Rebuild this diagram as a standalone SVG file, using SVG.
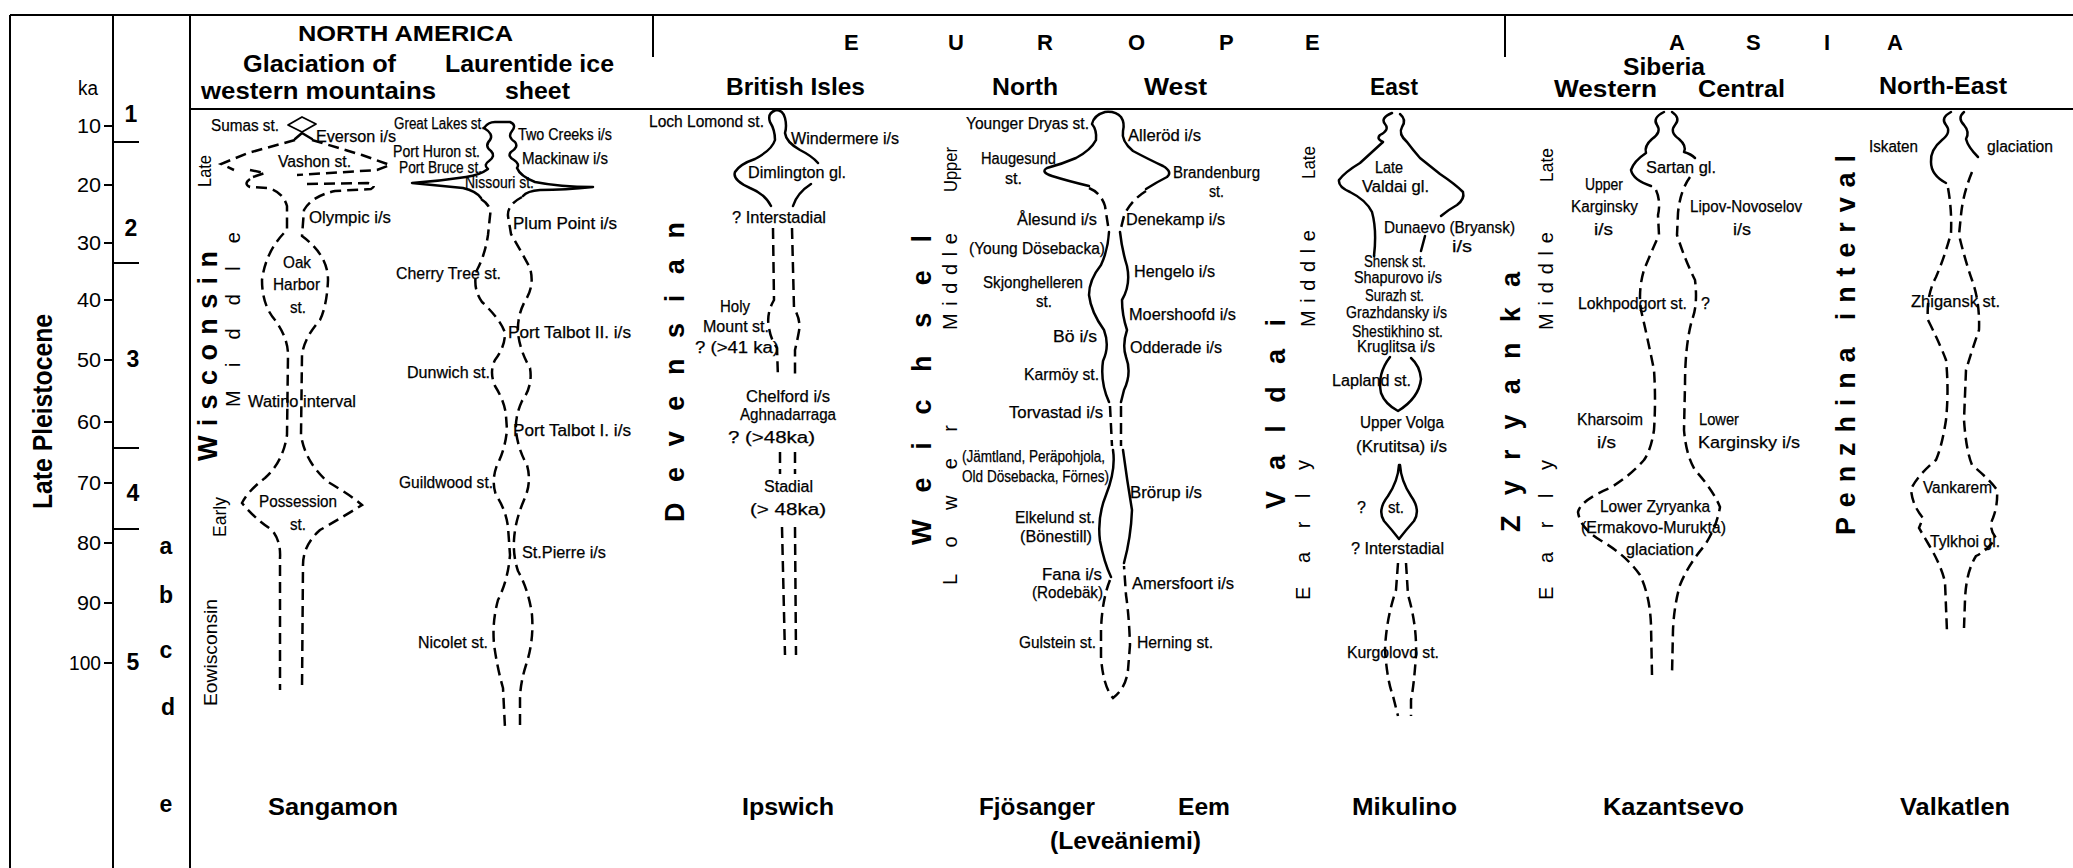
<svg xmlns="http://www.w3.org/2000/svg" width="2073" height="868" viewBox="0 0 2073 868">
<style>
.f{fill:none;stroke:#000;stroke-width:2}
.s{fill:none;stroke:#000;stroke-width:2.5;stroke-linecap:round;stroke-linejoin:round}
.t{fill:none;stroke:#000;stroke-width:1.8;stroke-linejoin:round}
.d{fill:none;stroke:#000;stroke-width:2.5;stroke-dasharray:11 6}
text{font-family:"Liberation Sans",Arial,sans-serif;fill:#000}
.l{font-size:16px;stroke:#000;stroke-width:0.25}
.h{font-size:24px;font-weight:bold}
.hl{font-size:22px;font-weight:bold}
.v{font-size:27px;font-weight:bold}
.m{font-size:20px}
.r{font-size:18px}
.n{font-size:20px}
.b{font-size:23px;font-weight:bold}
</style>
<rect width="2073" height="868" fill="#fff"/>
<g id="frame">
<path class="f" d="M10,15 H2073 M10,15 V868 M113,15 V868 M190,15 V868 M190,109 H2073 M653,15 V57 M1505,15 V57"/>
</g>
<g id="header">
<text class="hl" x="298" y="41" textLength="215" lengthAdjust="spacingAndGlyphs">NORTH AMERICA</text>
<text class="h" x="243" y="72" textLength="153" lengthAdjust="spacingAndGlyphs">Glaciation of</text>
<text class="h" x="445" y="72" textLength="169" lengthAdjust="spacingAndGlyphs">Laurentide ice</text>
<text class="h" x="201" y="99" textLength="235" lengthAdjust="spacingAndGlyphs">western mountains</text>
<text class="h" x="505" y="99" textLength="65" lengthAdjust="spacingAndGlyphs">sheet</text>
<text class="hl" x="844" y="50">E</text>
<text class="hl" x="948" y="50">U</text>
<text class="hl" x="1037" y="50">R</text>
<text class="hl" x="1128" y="50">O</text>
<text class="hl" x="1219" y="50">P</text>
<text class="hl" x="1305" y="50">E</text>
<text class="hl" x="1669" y="50">A</text>
<text class="hl" x="1746" y="50">S</text>
<text class="hl" x="1824" y="50">I</text>
<text class="hl" x="1887" y="50">A</text>
<text class="h" x="726" y="95" textLength="139" lengthAdjust="spacingAndGlyphs">British Isles</text>
<text class="h" x="992" y="95" textLength="66" lengthAdjust="spacingAndGlyphs">North</text>
<text class="h" x="1144" y="95" textLength="63" lengthAdjust="spacingAndGlyphs">West</text>
<text class="h" x="1370" y="95" textLength="48" lengthAdjust="spacingAndGlyphs">East</text>
<text class="h" x="1623" y="75" textLength="82" lengthAdjust="spacingAndGlyphs">Siberia</text>
<text class="h" x="1554" y="97" textLength="103" lengthAdjust="spacingAndGlyphs">Western</text>
<text class="h" x="1698" y="97" textLength="87" lengthAdjust="spacingAndGlyphs">Central</text>
<text class="h" x="1879" y="94" textLength="128" lengthAdjust="spacingAndGlyphs">North-East</text>
</g>
<g id="axis">
<text class="v" transform="translate(42,412) rotate(-90)" x="-97" y="10" textLength="195" lengthAdjust="spacingAndGlyphs">Late Pleistocene</text>
<text class="n" x="78" y="95" textLength="20" lengthAdjust="spacingAndGlyphs">ka</text>
<path class="f" d="M104,126 H113 M104,185 H113 M104,243 H113 M104,300 H113 M104,360 H113 M104,422 H113 M104,483 H113 M104,543 H113 M104,603 H113 M104,663 H113"/>
<g class="n" text-anchor="end">
<text x="101" y="133" textLength="24" lengthAdjust="spacingAndGlyphs">10</text>
<text x="101" y="192" textLength="24" lengthAdjust="spacingAndGlyphs">20</text>
<text x="101" y="250" textLength="24" lengthAdjust="spacingAndGlyphs">30</text>
<text x="101" y="307" textLength="24" lengthAdjust="spacingAndGlyphs">40</text>
<text x="101" y="367" textLength="24" lengthAdjust="spacingAndGlyphs">50</text>
<text x="101" y="429" textLength="24" lengthAdjust="spacingAndGlyphs">60</text>
<text x="101" y="490" textLength="24" lengthAdjust="spacingAndGlyphs">70</text>
<text x="101" y="550" textLength="24" lengthAdjust="spacingAndGlyphs">80</text>
<text x="101" y="610" textLength="24" lengthAdjust="spacingAndGlyphs">90</text>
<text x="101" y="670" textLength="32" lengthAdjust="spacingAndGlyphs">100</text>
</g>
<path class="f" d="M113,142 H139 M113,263 H139 M113,448 H139 M113,529 H139"/>
<g class="b" text-anchor="middle">
<text x="131" y="122">1</text>
<text x="131" y="236">2</text>
<text x="133" y="367">3</text>
<text x="133" y="501">4</text>
<text x="133" y="670">5</text>
<text x="166" y="554">a</text>
<text x="166" y="603">b</text>
<text x="166" y="658">c</text>
<text x="168" y="715">d</text>
<text x="166" y="812">e</text>
</g>
</g>
<g id="col-na-west">
<text class="r" transform="translate(204,171) rotate(-90)" x="-16" y="7" textLength="32" lengthAdjust="spacingAndGlyphs">Late</text>
<text class="v" transform="translate(208,356) rotate(-90)" x="-105" y="9" textLength="210" lengthAdjust="spacing">Wisconsin</text>
<text class="m" transform="translate(233,320) rotate(-90)" x="-87" y="7" textLength="175" lengthAdjust="spacing">Middle</text>
<text class="r" transform="translate(219,517) rotate(-90)" x="-20" y="7" textLength="40" lengthAdjust="spacingAndGlyphs">Early</text>
<text class="r" transform="translate(210,653) rotate(-90)" x="-53" y="7" textLength="107" lengthAdjust="spacingAndGlyphs">Eowisconsin</text>
<path class="t" d="M288,125 L302,117 L316,124 L302,132 Z"/>
<path class="s" d="M295,139 L302,133 L312,139"/>
<path class="d" d="M295,140 L248,153 L221,164 L234,170"/>
<path class="d" d="M250,170 L265,173 L253,177"/>
<path class="d" d="M312,140 L362,155 L390,165 L377,170 L297,175"/>
<path class="d" d="M250,179 Q243,184 250,187 L268,188 Q283,192 287,206 L287,230 Q266,250 262,280 Q262,305 275,320 Q288,338 288,355 L287,435 Q283,462 265,478 Q247,492 242,503 Q254,518 272,530 Q281,541 280,558 L280,690"/>
<path class="d" d="M307,184 L368,183 Q378,185 371,189 L335,191 Q312,196 304,210 L302,236 Q328,255 328,280 Q327,305 320,320 Q304,338 302,355 L301,435 Q305,462 328,482 Q352,496 362,505 Q343,517 320,530 Q303,545 303,565 L302,690"/>
<g class="l">
<text x="211" y="131" textLength="68" lengthAdjust="spacingAndGlyphs">Sumas st.</text>
<text x="316" y="142" textLength="80" lengthAdjust="spacingAndGlyphs">Everson i/s</text>
<text x="278" y="167" textLength="73" lengthAdjust="spacingAndGlyphs">Vashon st.</text>
<text x="309" y="223" textLength="82" lengthAdjust="spacingAndGlyphs">Olympic i/s</text>
<text x="283" y="268" textLength="28" lengthAdjust="spacingAndGlyphs">Oak</text>
<text x="273" y="290" textLength="47" lengthAdjust="spacingAndGlyphs">Harbor</text>
<text x="290" y="313" textLength="16" lengthAdjust="spacingAndGlyphs">st.</text>
<text x="248" y="407" textLength="108" lengthAdjust="spacingAndGlyphs">Watino interval</text>
<text x="259" y="507" textLength="78" lengthAdjust="spacingAndGlyphs">Possession</text>
<text x="290" y="530" textLength="16" lengthAdjust="spacingAndGlyphs">st.</text>
</g>
</g>
<g id="col-na-laurentide">
<path class="s" d="M484,128 Q488,122 495,122 L510,122 Q517,125 512,131 Q507,137 515,142 Q519,147 511,152 Q507,156 514,160 Q520,164 517,168 Q520,176 535,182 Q560,187 593,187 Q565,190 540,190 Q527,191 523,196"/>
<path class="s" d="M484,128 Q494,134 490,140 Q484,146 491,151 Q496,156 489,161 Q483,165 488,169 Q480,175 466,177 Q440,181 412,183 Q442,186 463,188 Q476,191 481,198"/>
<path class="d" d="M481,199 Q492,206 490,216 L488,235 Q485,255 477,270 Q472,288 482,302 Q501,320 505,333 Q505,347 495,360 Q489,372 495,386 Q505,402 506,416 L507,430 Q505,450 497,465 Q491,481 496,495 Q506,510 508,527 L510,555 Q508,580 498,600 Q492,622 494,644 Q497,667 503,688 L505,728"/>
<path class="d" d="M522,197 Q507,205 508,216 L511,234 Q521,251 530,268 Q535,286 525,301 Q517,316 518,333 Q520,351 530,368 Q533,386 522,401 Q515,416 516,431 Q518,449 527,465 Q532,483 524,500 Q515,521 514,540 Q513,556 518,571 Q529,591 532,615 Q534,641 526,665 Q520,684 520,700 L520,728"/>
<g class="l">
<text x="394" y="129" textLength="91" lengthAdjust="spacingAndGlyphs">Great Lakes st.</text>
<text x="518" y="140" textLength="94" lengthAdjust="spacingAndGlyphs">Two Creeks i/s</text>
<text x="393" y="157" textLength="87" lengthAdjust="spacingAndGlyphs">Port Huron st.</text>
<text x="522" y="164" textLength="86" lengthAdjust="spacingAndGlyphs">Mackinaw i/s</text>
<text x="399" y="173" textLength="83" lengthAdjust="spacingAndGlyphs">Port Bruce st.</text>
<text x="465" y="188" textLength="69" lengthAdjust="spacingAndGlyphs">Nissouri st.</text>
<text x="513" y="229" textLength="104" lengthAdjust="spacingAndGlyphs">Plum Point i/s</text>
<text x="396" y="279" textLength="105" lengthAdjust="spacingAndGlyphs">Cherry Tree st.</text>
<text x="508" y="338" textLength="123" lengthAdjust="spacingAndGlyphs">Port Talbot II. i/s</text>
<text x="407" y="378" textLength="83" lengthAdjust="spacingAndGlyphs">Dunwich st.</text>
<text x="513" y="436" textLength="118" lengthAdjust="spacingAndGlyphs">Port Talbot I. i/s</text>
<text x="399" y="488" textLength="94" lengthAdjust="spacingAndGlyphs">Guildwood st.</text>
<text x="522" y="558" textLength="84" lengthAdjust="spacingAndGlyphs">St.Pierre i/s</text>
<text x="418" y="648" textLength="70" lengthAdjust="spacingAndGlyphs">Nicolet st.</text>
</g>
</g>
<g id="col-british">
<text class="v" transform="translate(675,372) rotate(-90)" x="-150" y="9" textLength="300" lengthAdjust="spacing">Devensian</text>
<path class="s" d="M771,206 Q765,194 750,188 Q732,180 735,172 Q740,164 755,159 Q772,150 775,140 Q775,130 770,122 Q767,113 776,110 Q783,110 785,118 Q787,126 785,133 Q786,142 800,150 Q812,156 818,163"/>
<path class="s" d="M811,184 Q797,193 793,206"/>
<path class="d" d="M773,228 L774,300 Q766,314 769,328 Q771,340 777,348 L778,378 M792,228 L794,308 Q801,320 799,331 Q797,342 795,350 L795,378 M780,452 L780,474 M795,452 L795,474 M782,527 L785,655 M795,527 L796,655"/>
<g class="l">
<text x="649" y="127" textLength="115" lengthAdjust="spacingAndGlyphs">Loch Lomond st.</text>
<text x="791" y="144" textLength="108" lengthAdjust="spacingAndGlyphs">Windermere i/s</text>
<text x="748" y="178" textLength="98" lengthAdjust="spacingAndGlyphs">Dimlington gl.</text>
<text x="732" y="223" textLength="94" lengthAdjust="spacingAndGlyphs">? Interstadial</text>
<text x="720" y="312" textLength="30" lengthAdjust="spacingAndGlyphs">Holy</text>
<text x="703" y="332" textLength="66" lengthAdjust="spacingAndGlyphs">Mount st.</text>
<text x="695" y="353" textLength="84" lengthAdjust="spacingAndGlyphs">? (&gt;41 ka)</text>
<text x="746" y="402" textLength="84" lengthAdjust="spacingAndGlyphs">Chelford i/s</text>
<text x="740" y="420" textLength="96" lengthAdjust="spacingAndGlyphs">Aghnadarraga</text>
<text x="728" y="443" textLength="87" lengthAdjust="spacingAndGlyphs">? (&gt;48ka)</text>
<text x="764" y="492" textLength="49" lengthAdjust="spacingAndGlyphs">Stadial</text>
<text x="750" y="515" textLength="76" lengthAdjust="spacingAndGlyphs">(&gt; 48ka)</text>
</g>
</g>
<g id="col-northwest">
<text class="v" transform="translate(922,390) rotate(-90)" x="-155" y="9" textLength="310" lengthAdjust="spacing">Weichsel</text>
<text class="r" transform="translate(950,170) rotate(-90)" x="-22" y="7" textLength="45" lengthAdjust="spacingAndGlyphs">Upper</text>
<text class="m" transform="translate(950,282) rotate(-90)" x="-48" y="7" textLength="97" lengthAdjust="spacing">Middle</text>
<text class="m" transform="translate(950,505) rotate(-90)" x="-80" y="7" textLength="160" lengthAdjust="spacing">Lower</text>
<path class="s" d="M1089,186 Q1068,181 1052,176 Q1040,172 1047,168 Q1062,164 1076,158 Q1091,150 1096,140 Q1097,130 1092,124 Q1094,115 1105,112 Q1116,111 1121,117 Q1125,123 1123,131 Q1121,141 1133,151 Q1150,160 1163,166 Q1173,172 1167,177 Q1157,182 1146,189"/>
<path class="d" d="M1089,188 Q1101,193 1105,206 L1109,232 M1146,191 Q1130,201 1124,216 L1120,232"/>
<path class="s" d="M1109,232 Q1108,250 1101,265 Q1089,280 1089,295 Q1091,312 1104,330 Q1110,346 1103,361 Q1100,382 1109,402"/>
<path class="s" d="M1120,232 Q1122,250 1127,266 Q1131,285 1122,300 Q1122,315 1127,330 Q1122,345 1126,357 Q1132,373 1124,390 L1121,402"/>
<path class="d" d="M1110,406 L1112,446 M1121,406 L1121,446"/>
<path class="s" d="M1113,450 Q1116,470 1106,495 Q1097,517 1100,541 Q1104,562 1111,577"/>
<path class="s" d="M1123,450 Q1127,480 1132,510 Q1131,537 1124,563"/>
<path class="d" d="M1110,580 Q1102,600 1101,630 L1101,657 Q1103,686 1113,698 Q1126,688 1128,670 L1130,645 Q1129,615 1126,595 L1124,566"/>
<g class="l">
<text x="966" y="129" textLength="123" lengthAdjust="spacingAndGlyphs">Younger Dryas st.</text>
<text x="1128" y="141" textLength="73" lengthAdjust="spacingAndGlyphs">Alleröd i/s</text>
<text x="981" y="164" textLength="75" lengthAdjust="spacingAndGlyphs">Haugesund</text>
<text x="1005" y="184" textLength="17" lengthAdjust="spacingAndGlyphs">st.</text>
<text x="1173" y="178" textLength="87" lengthAdjust="spacingAndGlyphs">Brandenburg</text>
<text x="1209" y="197" textLength="15" lengthAdjust="spacingAndGlyphs">st.</text>
<text x="1017" y="225" textLength="80" lengthAdjust="spacingAndGlyphs">Ålesund i/s</text>
<text x="1126" y="225" textLength="99" lengthAdjust="spacingAndGlyphs">Denekamp i/s</text>
<text x="969" y="254" textLength="136" lengthAdjust="spacingAndGlyphs">(Young Dösebacka)</text>
<text x="1134" y="277" textLength="81" lengthAdjust="spacingAndGlyphs">Hengelo i/s</text>
<text x="983" y="288" textLength="100" lengthAdjust="spacingAndGlyphs">Skjonghelleren</text>
<text x="1036" y="307" textLength="16" lengthAdjust="spacingAndGlyphs">st.</text>
<text x="1129" y="320" textLength="107" lengthAdjust="spacingAndGlyphs">Moershoofd i/s</text>
<text x="1053" y="342" textLength="44" lengthAdjust="spacingAndGlyphs">Bö i/s</text>
<text x="1130" y="353" textLength="92" lengthAdjust="spacingAndGlyphs">Odderade i/s</text>
<text x="1024" y="380" textLength="75" lengthAdjust="spacingAndGlyphs">Karmöy st.</text>
<text x="1009" y="418" textLength="94" lengthAdjust="spacingAndGlyphs">Torvastad i/s</text>
<text x="962" y="462" textLength="143" lengthAdjust="spacingAndGlyphs">(Jämtland, Peräpohjola,</text>
<text x="962" y="482" textLength="147" lengthAdjust="spacingAndGlyphs">Old Dösebacka, Förnes)</text>
<text x="1130" y="498" textLength="72" lengthAdjust="spacingAndGlyphs">Brörup i/s</text>
<text x="1015" y="523" textLength="80" lengthAdjust="spacingAndGlyphs">Elkelund st.</text>
<text x="1020" y="542" textLength="72" lengthAdjust="spacingAndGlyphs">(Bönestill)</text>
<text x="1042" y="580" textLength="60" lengthAdjust="spacingAndGlyphs">Fana i/s</text>
<text x="1032" y="598" textLength="71" lengthAdjust="spacingAndGlyphs">(Rodebäk)</text>
<text x="1132" y="589" textLength="102" lengthAdjust="spacingAndGlyphs">Amersfoort i/s</text>
<text x="1019" y="648" textLength="77" lengthAdjust="spacingAndGlyphs">Gulstein st.</text>
<text x="1137" y="648" textLength="76" lengthAdjust="spacingAndGlyphs">Herning st.</text>
</g>
</g>
<g id="col-east">
<text class="v" transform="translate(1276,414) rotate(-90)" x="-95" y="9" textLength="190" lengthAdjust="spacing">Valdai</text>
<text class="r" transform="translate(1308,163) rotate(-90)" x="-16" y="7" textLength="33" lengthAdjust="spacingAndGlyphs">Late</text>
<text class="m" transform="translate(1308,279) rotate(-90)" x="-48" y="7" textLength="97" lengthAdjust="spacing">Middle</text>
<text class="m" transform="translate(1303,530) rotate(-90)" x="-70" y="7" textLength="140" lengthAdjust="spacing">Early</text>
<path class="s" d="M1392,113 Q1380,118 1385,124 Q1390,130 1380,135 Q1376,139 1383,142 Q1372,152 1360,163 Q1345,172 1339,180 Q1338,187 1350,192 Q1366,200 1372,212 Q1377,230 1374,256"/>
<path class="s" d="M1400,114 Q1407,120 1402,127 Q1398,134 1407,142 Q1413,150 1420,158 Q1430,166 1440,174 Q1455,184 1463,192 Q1465,199 1457,205 Q1448,210 1441,216"/>
<path class="s" d="M1425,236 L1421,251"/>
<path class="s" d="M1390,357 Q1377,374 1381,393 Q1385,404 1398,411 Q1419,398 1421,379 Q1420,366 1411,358"/>
<path class="s" d="M1399,465 Q1398,481 1388,496 Q1377,510 1384,521 Q1392,530 1399,539 Q1406,530 1414,521 Q1421,510 1411,496 Q1401,481 1400,465"/>
<path class="d" d="M1398,563 L1396,590 Q1386,620 1385,650 Q1387,680 1393,696 L1398,716 M1406,563 L1408,595 Q1417,625 1416,655 Q1414,685 1411,700 L1411,716"/>
<g class="l">
<text x="1375" y="173" textLength="28" lengthAdjust="spacingAndGlyphs">Late</text>
<text x="1362" y="192" textLength="67" lengthAdjust="spacingAndGlyphs">Valdai gl.</text>
<text x="1384" y="233" textLength="131" lengthAdjust="spacingAndGlyphs">Dunaevo (Bryansk)</text>
<text x="1452" y="252" textLength="20" lengthAdjust="spacingAndGlyphs">i/s</text>
<text x="1364" y="267" textLength="62" lengthAdjust="spacingAndGlyphs">Shensk st.</text>
<text x="1354" y="283" textLength="88" lengthAdjust="spacingAndGlyphs">Shapurovo i/s</text>
<text x="1365" y="301" textLength="59" lengthAdjust="spacingAndGlyphs">Surazh st.</text>
<text x="1346" y="318" textLength="101" lengthAdjust="spacingAndGlyphs">Grazhdansky i/s</text>
<text x="1352" y="337" textLength="91" lengthAdjust="spacingAndGlyphs">Shestikhino st.</text>
<text x="1357" y="352" textLength="78" lengthAdjust="spacingAndGlyphs">Kruglitsa i/s</text>
<text x="1332" y="386" textLength="79" lengthAdjust="spacingAndGlyphs">Lapland st.</text>
<text x="1360" y="428" textLength="84" lengthAdjust="spacingAndGlyphs">Upper Volga</text>
<text x="1356" y="452" textLength="91" lengthAdjust="spacingAndGlyphs">(Krutitsa) i/s</text>
<text x="1357" y="513">?</text>
<text x="1388" y="513" textLength="16" lengthAdjust="spacingAndGlyphs">st.</text>
<text x="1351" y="554" textLength="93" lengthAdjust="spacingAndGlyphs">? Interstadial</text>
<text x="1347" y="658" textLength="92" lengthAdjust="spacingAndGlyphs">Kurgolovo st.</text>
</g>
</g>
<g id="col-siberia">
<text class="v" transform="translate(1511,402) rotate(-90)" x="-130" y="9" textLength="260" lengthAdjust="spacing">Zyryanka</text>
<text class="r" transform="translate(1546,165) rotate(-90)" x="-17" y="7" textLength="34" lengthAdjust="spacingAndGlyphs">Late</text>
<text class="m" transform="translate(1546,281) rotate(-90)" x="-49" y="7" textLength="98" lengthAdjust="spacing">Middle</text>
<text class="m" transform="translate(1546,530) rotate(-90)" x="-70" y="7" textLength="140" lengthAdjust="spacing">Early</text>
<path class="s" d="M1664,112 Q1652,118 1657,125 Q1662,132 1652,139 Q1644,146 1646,153 Q1634,161 1631,170 Q1633,180 1651,186"/>
<path class="s" d="M1672,112 Q1681,118 1675,125 Q1669,132 1679,139 Q1687,146 1684,152 Q1691,154 1695,158"/>
<path class="d" d="M1656,190 Q1661,201 1658,215 L1659,235 Q1650,255 1644,270 Q1638,290 1641,310 Q1648,340 1654,370 Q1656,400 1654,430 Q1651,450 1644,460 Q1630,476 1610,488 Q1581,500 1578,512 Q1580,528 1600,540 Q1626,555 1640,575 Q1650,596 1651,625 L1652,675"/>
<path class="d" d="M1690,177 Q1680,191 1678,213 L1677,235 Q1685,260 1695,280 Q1698,305 1692,320 Q1685,345 1685,385 L1684,430 Q1686,455 1695,470 Q1713,490 1720,507 Q1717,526 1705,545 Q1688,565 1680,585 Q1674,606 1673,630 L1672,675"/>
<g class="l">
<text x="1646" y="173" textLength="70" lengthAdjust="spacingAndGlyphs">Sartan gl.</text>
<text x="1585" y="190" textLength="38" lengthAdjust="spacingAndGlyphs">Upper</text>
<text x="1571" y="212" textLength="67" lengthAdjust="spacingAndGlyphs">Karginsky</text>
<text x="1594" y="235" textLength="19" lengthAdjust="spacingAndGlyphs">i/s</text>
<text x="1690" y="212" textLength="112" lengthAdjust="spacingAndGlyphs">Lipov-Novoselov</text>
<text x="1733" y="235" textLength="18" lengthAdjust="spacingAndGlyphs">i/s</text>
<text x="1578" y="309" textLength="109" lengthAdjust="spacingAndGlyphs">Lokhpodgort st.</text>
<text x="1701" y="309">?</text>
<text x="1577" y="425" textLength="66" lengthAdjust="spacingAndGlyphs">Kharsoim</text>
<text x="1597" y="448" textLength="19" lengthAdjust="spacingAndGlyphs">i/s</text>
<text x="1699" y="425" textLength="40" lengthAdjust="spacingAndGlyphs">Lower</text>
<text x="1698" y="448" textLength="102" lengthAdjust="spacingAndGlyphs">Karginsky  i/s</text>
<text x="1600" y="512" textLength="110" lengthAdjust="spacingAndGlyphs">Lower Zyryanka</text>
<text x="1581" y="533" textLength="145" lengthAdjust="spacingAndGlyphs">(Ermakovo-Murukta)</text>
<text x="1626" y="555" textLength="68" lengthAdjust="spacingAndGlyphs">glaciation</text>
</g>
</g>
<g id="col-northeast">
<text class="v" transform="translate(1846,345) rotate(-90)" x="-190" y="9" textLength="380" lengthAdjust="spacing">Penzhina interval</text>
<path class="s" d="M1951,112 Q1940,118 1946,125 Q1952,132 1942,140 Q1930,150 1931,162 Q1931,175 1946,183"/>
<path class="s" d="M1964,112 Q1957,118 1964,125 Q1970,132 1966,139 Q1968,147 1978,157"/>
<path class="d" d="M1948,188 Q1952,210 1951,233 Q1945,256 1936,277 Q1926,296 1928,320 Q1940,344 1946,360 Q1949,390 1946,420 Q1942,446 1936,460 Q1918,475 1911,489 Q1912,505 1923,518 L1919,528 L1929,545 Q1941,565 1945,582 L1947,632"/>
<path class="d" d="M1972,172 Q1963,194 1961,215 L1959,235 Q1965,260 1972,280 Q1980,302 1979,330 Q1972,350 1966,370 L1964,420 Q1966,450 1972,465 Q1990,480 1997,490 Q1998,505 1993,518 Q1988,528 1996,538 Q1988,550 1976,556 Q1966,572 1965,600 L1964,628"/>
<g class="l">
<text x="1869" y="152" textLength="49" lengthAdjust="spacingAndGlyphs">Iskaten</text>
<text x="1987" y="152" textLength="66" lengthAdjust="spacingAndGlyphs">glaciation</text>
<text x="1911" y="307" textLength="89" lengthAdjust="spacingAndGlyphs">Zhigansk st.</text>
<text x="1923" y="493" textLength="69" lengthAdjust="spacingAndGlyphs">Vankarem</text>
<text x="1930" y="547" textLength="70" lengthAdjust="spacingAndGlyphs">Tylkhoi gl.</text>
</g>
</g>
<g id="footer" class="b">
<text x="268" y="815" textLength="130" lengthAdjust="spacingAndGlyphs">Sangamon</text>
<text x="742" y="815" textLength="92" lengthAdjust="spacingAndGlyphs">Ipswich</text>
<text x="979" y="815" textLength="116" lengthAdjust="spacingAndGlyphs">Fjösanger</text>
<text x="1178" y="815" textLength="52" lengthAdjust="spacingAndGlyphs">Eem</text>
<text x="1050" y="849" textLength="151" lengthAdjust="spacingAndGlyphs">(Leveäniemi)</text>
<text x="1352" y="815" textLength="105" lengthAdjust="spacingAndGlyphs">Mikulino</text>
<text x="1603" y="815" textLength="141" lengthAdjust="spacingAndGlyphs">Kazantsevo</text>
<text x="1900" y="815" textLength="110" lengthAdjust="spacingAndGlyphs">Valkatlen</text>
</g>
</svg>
